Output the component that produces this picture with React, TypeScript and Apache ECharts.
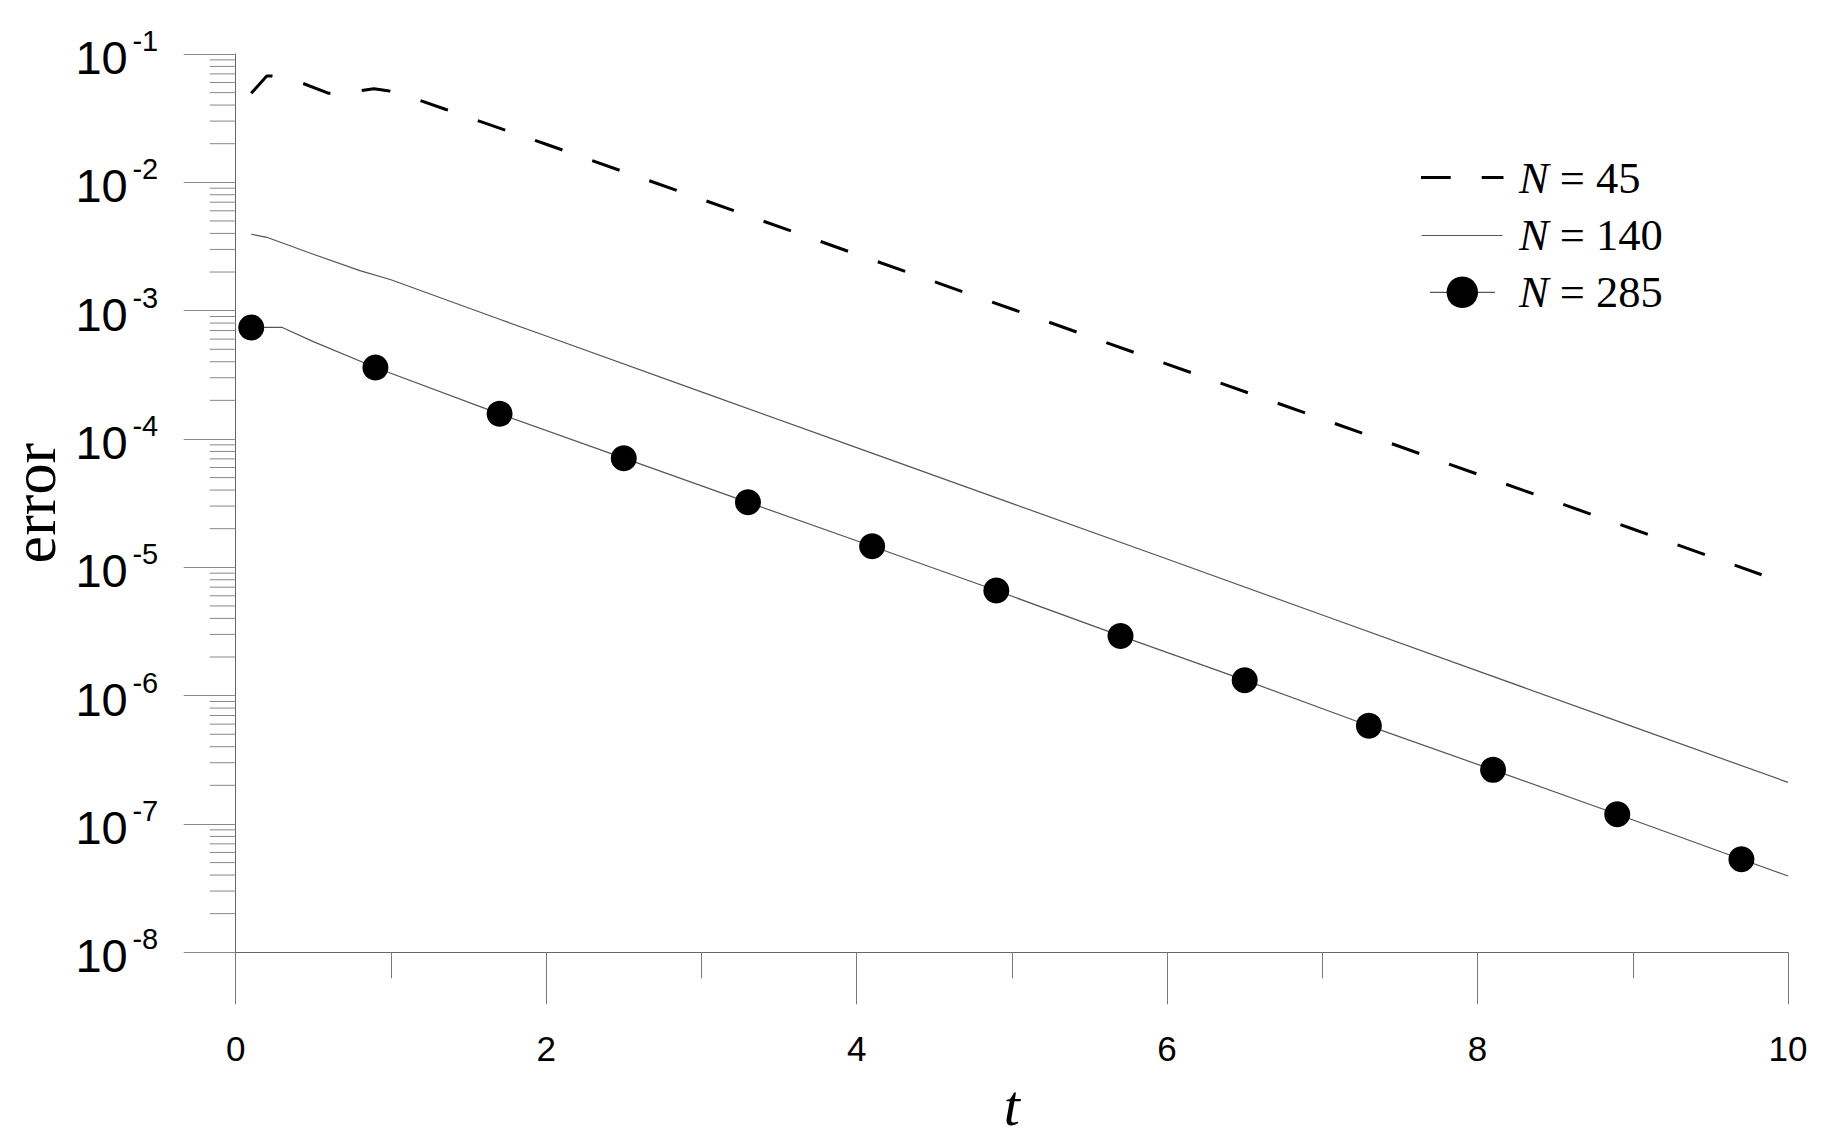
import React, { useEffect, useRef } from 'react';
import * as echarts from 'echarts';

// ---- data ----
const xTickLabels = ['0', '2', '4', '6', '8', '10'];
const yDecadeExponents = [-8, -7, -6, -5, -4, -3, -2, -1];
const yMinorMultipliers = [2, 3, 4, 5, 6, 7, 8, 9];

const n45T = [0.1, 0.2, 0.23, 0.43, 0.6, 0.68, 0.8, 0.89, 0.98, 1.17, 1.35, 2, 3, 4, 5, 6, 7, 8, 9, 9.83];
const n45Err = [4.94e-2, 6.74e-2, 6.74e-2, 5.92e-2, 4.94e-2, 4.9e-2, 5.18e-2, 5.37e-2, 5.18e-2, 4.42e-2, 3.71e-2,
  1.98e-2, 7.39e-3, 2.75e-3, 1.03e-3, 3.83e-4, 1.43e-4, 5.32e-5, 1.99e-5, 8.75e-6];

const n140T = [0.1, 0.2, 0.5, 0.8, 1.0, 1.7, 2, 3, 4, 5, 6, 7, 8, 9, 10];
const n140Err = [3.94e-3, 3.73e-3, 2.75e-3, 2.05e-3, 1.74e-3, 8.57e-4, 6.35e-4, 2.33e-4, 8.57e-5, 3.15e-5,
  1.16e-5, 4.25e-6, 1.56e-6, 5.74e-7, 2.11e-7];

const n285T = [0.1, 0.3, 0.5, 0.9, 1.7, 2.5, 3.3, 4.1, 4.9, 5.7, 6.5, 7.3, 8.1, 8.9, 9.7, 10];
const n285Err = [7.4e-4, 7.4e-4, 5.74e-4, 3.61e-4, 1.57e-4, 7.09e-5, 3.21e-5, 1.46e-5, 6.59e-6, 2.92e-6,
  1.32e-6, 5.82e-7, 2.64e-7, 1.19e-7, 5.31e-8, 3.93e-8];

const n285DotT = [0.1, 0.9, 1.7, 2.5, 3.3, 4.1, 4.9, 5.7, 6.5, 7.3, 8.1, 8.9, 9.7];
const n285DotErr = [7.4e-4, 3.61e-4, 1.57e-4, 7.09e-5, 3.21e-5, 1.46e-5, 6.59e-6, 2.92e-6, 1.32e-6,
  5.82e-7, 2.64e-7, 1.19e-7, 5.31e-8];

const legendLabels = ['45', '140', '285'];

const zip = (a: number[], b: number[]) => a.map((v, i) => [v, b[i]]);

const minorTickValues: number[][] = [];
yDecadeExponents.slice(0, -1).forEach((e) => {
  yMinorMultipliers.forEach((m) => minorTickValues.push([0, m * Math.pow(10, e)]));
});

const SANS = 'Liberation Sans';
const SERIF = 'Liberation Serif';

export default function App() {
  const ref = useRef<HTMLDivElement>(null);

  useEffect(() => {
    document.body.style.margin = '0';
    const chart = echarts.init(ref.current!, null, { renderer: 'svg' });

    const legendText = (label: string, y: number) => ({
      type: 'text',
      x: 1519,
      y,
      style: {
        text: '{i|N} = ' + label,
        fontFamily: SERIF,
        fontSize: 44.5,
        fill: '#000',
        align: 'left',
        verticalAlign: 'middle',
        rich: { i: { fontFamily: SERIF, fontSize: 44.5, fontStyle: 'italic', fill: '#000' } },
      },
    });

    const logAxisBase = {
      type: 'log',
      logBase: 10,
      min: 1e-8,
      max: 1e-1,
      position: 'left',
      splitLine: { show: false },
      minorTick: { show: false },
    };

    const option: any = {
      animation: false,
      backgroundColor: '#fff',
      grid: {
        left: 235.7,
        top: 54,
        right: 35,
        bottom: 187.7,
        containLabel: false,
        outerBoundsMode: 'none',
      },
      xAxis: {
        type: 'value',
        min: 0,
        max: 10,
        interval: 2,
        name: 't',
        nameLocation: 'middle',
        nameGap: 124,
        nameTextStyle: { fontFamily: SERIF, fontStyle: 'italic', fontSize: 58, color: '#000' },
        axisLine: { show: true, onZero: false, lineStyle: { color: '#666', width: 1 } },
        axisTick: { show: true, length: 52, lineStyle: { color: '#777', width: 1 } },
        minorTick: { show: true, splitNumber: 2, length: 26, lineStyle: { color: '#777', width: 1 } },
        splitLine: { show: false },
        minorSplitLine: { show: false },
        axisLabel: {
          fontFamily: SANS,
          fontSize: 35,
          lineHeight: 36,
          color: '#000',
          margin: 78,
          showMaxLabel: true,
          showMinLabel: true,
          formatter: (v: number) => xTickLabels[Math.round(v / 2)] ?? String(v),
        },
      },
      yAxis: [
        {
          ...logAxisBase,
          name: 'error',
          nameLocation: 'middle',
          nameRotate: 90,
          nameGap: 181,
          nameTextStyle: { fontFamily: SERIF, fontSize: 62, lineHeight: 40, color: '#000' },
          axisLine: { show: true, lineStyle: { color: '#666', width: 1 } },
          axisTick: { show: true, length: 52, lineStyle: { color: '#888', width: 1 } },
          axisLabel: {
            margin: 108,
            fontFamily: SANS,
            fontSize: 47,
            lineHeight: 7,
            verticalAlign: 'top',
            color: '#000',
            formatter: () => '10',
          },
        },
        {
          // exponents of the decade labels (superscripts)
          ...logAxisBase,
          axisLine: { show: false },
          axisTick: { show: false },
          axisLabel: {
            margin: 77.5,
            fontFamily: SANS,
            fontSize: 29,
            lineHeight: 26,
            verticalAlign: 'bottom',
            color: '#000',
            formatter: (v: number) => String(Math.round(Math.log10(v))),
          },
        },
      ],
      series: [
        {
          name: 'N = 45',
          type: 'line',
          data: zip(n45T, n45Err),
          symbol: 'none',
          lineStyle: { color: '#000', width: 3, type: [29, 31.6], cap: 'butt' },
          z: 3,
        },
        {
          name: 'N = 140',
          type: 'line',
          data: zip(n140T, n140Err),
          symbol: 'none',
          lineStyle: { color: '#555', width: 1.2 },
          z: 3,
        },
        {
          name: 'N = 285',
          type: 'line',
          data: zip(n285T, n285Err),
          symbol: 'none',
          lineStyle: { color: '#555', width: 1.2 },
          z: 3,
        },
        {
          name: 'N = 285 markers',
          type: 'scatter',
          data: zip(n285DotT, n285DotErr),
          symbol: 'circle',
          symbolSize: 26,
          itemStyle: { color: '#000', opacity: 1 },
          z: 4,
        },
        {
          name: 'yMinorTicks',
          type: 'custom',
          data: minorTickValues,
          clip: false,
          silent: true,
          z: 2,
          renderItem: (params: any, api: any) => {
            const p = api.coord([0, api.value(1)]);
            return {
              type: 'line',
              shape: { x1: p[0] - 26, y1: p[1], x2: p[0], y2: p[1] },
              style: { stroke: '#888', lineWidth: 1 },
            };
          },
        },
      ],
      graphic: [
        {
          type: 'line',
          shape: { x1: 1421, y1: 177.5, x2: 1503.5, y2: 177.5 },
          style: { stroke: '#000', lineWidth: 3, lineDash: [29.7, 31] },
        },
        {
          type: 'line',
          shape: { x1: 1421.5, y1: 235.5, x2: 1502.5, y2: 235.5 },
          style: { stroke: '#555', lineWidth: 1.2 },
        },
        {
          type: 'line',
          shape: { x1: 1430, y1: 292.3, x2: 1495, y2: 292.3 },
          style: { stroke: '#555', lineWidth: 1.2 },
        },
        {
          type: 'circle',
          shape: { cx: 1462.3, cy: 292.3, r: 15.8 },
          style: { fill: '#000' },
        },
        legendText(legendLabels[0], 177.5),
        legendText(legendLabels[1], 235),
        legendText(legendLabels[2], 292),
      ],
    };

    chart.setOption(option);
    return () => chart.dispose();
  }, []);

  return (
    <div
      ref={ref}
      style={{ position: 'fixed', left: 0, top: 0, width: 1823, height: 1140, background: '#fff' }}
    />
  );
}
